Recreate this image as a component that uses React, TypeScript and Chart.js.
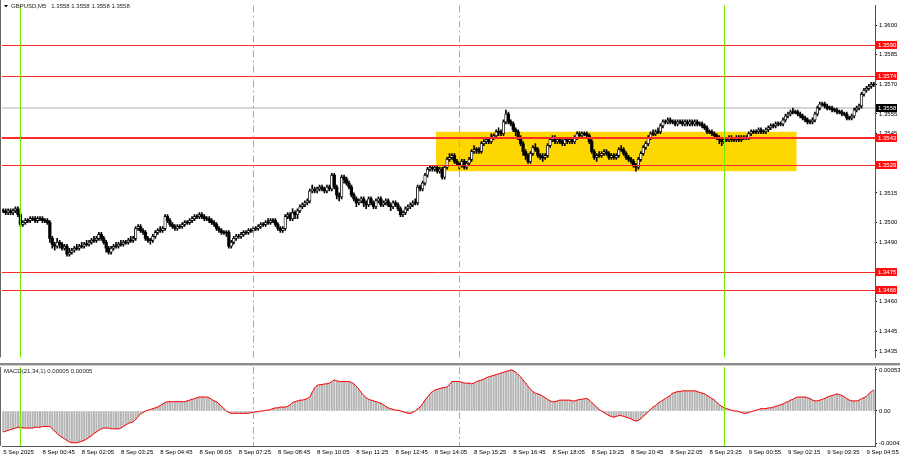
import React, { useEffect, useRef } from "react";
import { Chart, registerables } from "chart.js";

Chart.register(...registerables);

// ---------- DATA ----------
// Prices are stored as pips above 1.3400 (1 pip = 0.0001)
const PRICE_BASE = 1.34;
const PIP = 0.0001;

const closePips = [
  106,105,106,105,106,107,104,99,100,101,
  101,102,102,101,102,102,101,101,100,92,
  89,88,90,89,87,88,84,85,86,87,
  87,88,88,89,89,90,91,91,92,94,
  92,90,87,85,87,88,88,89,89,90,
  90,91,91,92,97,98,96,95,92,91,
  91,93,95,96,96,97,103,101,99,98,
  97,98,98,99,100,100,101,102,103,103,
  104,103,102,102,101,100,99,97,96,95,
  95,95,88,90,92,93,93,94,95,95,
  96,96,97,97,98,99,99,100,100,101,
  101,99,97,96,97,103,104,102,105,104,
  106,108,109,110,111,116,117,116,117,118,
  117,116,118,117,124,118,114,113,123,122,
  120,118,114,112,110,111,112,110,109,112,
  110,108,111,112,109,110,111,109,108,110,
  109,107,104,105,107,108,109,110,110,118,
  117,120,124,127,128,127,128,126,127,123,
  128,132,133,134,131,130,129,131,128,130,
  132,136,137,137,136,140,141,142,141,143,
  144,146,146,145,151,155,151,150,147,146,
  143,140,136,134,131,135,138,137,134,133,
  133,134,139,142,143,141,142,141,140,142,
  141,142,141,143,145,144,145,145,144,141,
  136,133,134,134,135,136,135,133,134,133,
  134,137,137,135,133,132,131,129,128,132,
  135,138,140,143,145,145,146,146,149,151,
  151,152,151,151,150,151,151,150,151,150,
  151,150,151,150,150,149,148,146,146,145,
  144,143,142,141,142,142,143,142,142,143,
  142,143,143,143,145,146,146,146,147,146,
  146,147,148,149,149,150,150,150,152,154,
  155,156,156,156,155,154,153,152,151,151,
  152,155,158,160,160,159,158,158,157,157,
  156,156,155,155,153,153,154,157,158,159,
  165,167,168,169,170,170,
];

const highPips = [
  107,107,107,107,107,108,108,105,101,102,
  102,103,103,103,103,103,103,102,102,101,
  93,90,92,91,90,89,89,87,87,88,
  89,89,90,90,91,91,92,93,93,95,
  95,93,91,88,88,89,90,90,91,91,
  91,92,93,93,98,99,99,97,96,93,
  92,94,96,97,98,98,104,104,102,100,
  99,99,99,100,101,101,102,103,104,104,
  105,105,104,103,103,102,101,100,98,97,
  96,96,96,91,93,94,94,95,96,96,
  97,97,98,98,99,100,100,101,102,102,
  102,102,100,98,98,104,105,105,107,106,
  107,109,110,111,112,117,119,118,118,119,
  119,118,119,119,125,125,119,115,124,124,
  123,121,119,115,113,112,113,113,111,113,
  113,111,112,113,113,111,112,112,110,111,
  111,110,108,106,108,109,110,111,112,119,
  119,121,125,128,129,129,129,129,128,128,
  129,133,135,135,135,132,131,132,132,131,
  133,137,139,138,138,141,142,143,143,145,
  145,147,148,147,152,157,156,152,151,148,
  147,144,141,137,135,136,139,140,138,135,
  135,135,140,143,144,144,143,143,142,143,
  143,143,143,144,146,146,146,146,146,145,
  142,137,135,136,136,137,137,136,135,135,
  135,138,139,138,136,134,133,132,130,133,
  136,139,141,144,146,147,147,148,150,152,
  152,153,153,152,152,152,152,152,152,152,
  152,152,152,152,151,151,150,149,147,147,
  146,145,144,143,143,143,144,144,143,144,
  144,144,144,144,146,147,147,147,148,148,
  147,148,149,150,150,151,151,151,153,155,
  156,157,158,157,157,156,155,154,153,152,
  153,156,159,161,161,161,160,159,159,158,
  158,157,157,156,156,154,155,158,159,160,
  166,168,169,170,171,171,
];

const lowPips = [
  105,104,104,104,104,105,103,98,98,99,
  100,100,101,100,100,101,100,100,99,90,
  87,86,87,87,86,86,83,83,84,85,
  86,86,87,87,88,88,89,90,90,91,
  91,89,85,84,84,86,87,87,88,88,
  89,89,90,90,91,96,95,94,91,90,
  89,90,92,94,95,95,96,100,98,97,
  96,96,97,97,98,99,99,100,101,102,
  102,102,101,101,100,99,98,96,95,94,
  94,93,87,87,89,91,92,92,93,94,
  94,95,95,96,96,97,98,98,99,99,
  100,98,96,95,95,96,102,101,101,102,
  102,105,107,108,109,110,115,115,115,116,
  116,115,115,116,116,117,112,111,112,120,
  119,117,113,111,108,109,110,108,107,108,
  109,107,107,110,108,108,109,108,106,107,
  108,106,103,103,104,106,107,108,109,109,
  116,116,119,123,126,126,126,125,125,122,
  122,127,131,132,130,129,127,128,127,127,
  129,131,135,135,135,135,139,140,140,140,
  142,143,144,144,144,150,150,149,146,144,
  142,139,134,132,130,130,134,136,133,132,
  131,132,133,138,141,140,140,140,139,139,
  140,140,140,140,142,143,143,144,143,140,
  135,132,131,133,133,134,134,132,132,132,
  132,133,136,134,132,131,130,128,126,127,
  131,134,137,139,142,144,144,145,145,148,
  150,150,150,150,149,149,150,149,149,149,
  149,149,149,149,149,148,147,145,145,144,
  143,142,140,139,140,141,141,141,141,141,
  141,141,142,142,142,144,145,145,145,145,
  145,145,146,147,148,148,149,149,149,151,
  153,154,155,155,154,153,152,151,150,150,
  150,151,154,157,159,158,157,157,156,156,
  155,155,154,154,152,152,152,153,156,157,
  158,164,166,167,168,169,
];

// MACD(21,34,1) main line, in units of 0.00001
const macdE5 = [
  -27,-26,-25,-24,-23,-22,-21,-21,-22,-22,
  -22,-22,-22,-21,-21,-21,-20,-20,-20,-20,
  -23,-26,-29,-32,-34,-36,-38,-40,-41,-41,
  -41,-40,-39,-38,-36,-34,-32,-29,-27,-25,
  -23,-22,-22,-22,-23,-23,-23,-23,-22,-20,
  -18,-16,-15,-14,-11,-7,-4,-2,0,1,
  2,3,4,5,7,9,11,12,12,12,
  12,12,12,12,12,13,14,15,16,17,
  18,18,18,18,17,15,13,12,9,6,
  3,0,-2,-3,-3,-3,-3,-3,-3,-3,
  -3,-2,-2,-1,-1,0,0,1,1,2,
  3,4,4,5,5,5,6,8,11,12,
  13,14,14,15,16,18,24,30,33,34,
  34,35,35,36,38,40,39,38,38,38,
  38,38,37,35,32,28,24,20,17,15,
  14,13,12,11,10,8,6,4,3,2,
  1,1,0,-1,-2,-3,-3,-2,0,3,
  5,9,14,18,22,25,27,28,29,30,
  30,31,34,38,38,38,38,37,36,36,
  36,35,36,38,39,40,41,43,44,45,
  46,47,48,49,50,51,52,53,52,50,
  47,44,40,36,32,28,25,23,22,21,
  19,17,15,13,12,12,13,14,14,14,
  14,14,13,13,14,15,15,16,16,14,
  11,8,5,2,0,-2,-4,-6,-7,-8,
  -7,-6,-6,-7,-8,-9,-10,-12,-13,-12,
  -10,-7,-4,-1,2,5,7,10,12,14,
  16,18,20,23,24,25,25,26,26,26,
  26,26,26,25,24,23,22,20,18,16,
  14,11,8,6,4,3,2,1,0,0,
  -1,-2,-3,-3,-2,-1,0,1,2,3,
  3,3,4,4,5,6,7,8,9,11,
  12,14,15,17,18,18,18,18,17,16,
  14,13,13,14,15,16,18,19,20,21,
  22,21,20,18,16,14,13,13,13,14,
  16,17,19,22,25,27,
];

const timeTickLabels = [
  "5 Sep 2025", "8 Sep 00:45", "8 Sep 02:05", "8 Sep 03:25", "8 Sep 04:45",
  "8 Sep 06:05", "8 Sep 07:25", "8 Sep 08:45", "8 Sep 10:05", "8 Sep 11:25",
  "8 Sep 12:45", "8 Sep 14:05", "8 Sep 15:25", "8 Sep 16:45", "8 Sep 18:05",
  "8 Sep 19:25", "8 Sep 20:45", "8 Sep 22:05", "8 Sep 23:25", "9 Sep 00:55",
  "9 Sep 02:15", "9 Sep 03:35", "9 Sep 04:55",
];
const BARS_PER_TICK = 16;

const priceAxisTicks = [1.36, 1.3585, 1.357, 1.3555, 1.3545, 1.3515, 1.35, 1.349, 1.346, 1.3445, 1.3435];
const priceMin = 1.34317;
const priceMax = 1.36099;

const levelPrices = [1.359, 1.3574, 1.3543, 1.3529, 1.3475, 1.3466];
const keyLevel = 1.3543;
const lastPrice = 1.3558;

const zoneHigh = 1.3546;
const zoneLow = 1.3526;
const zoneFromBar = 177;
const zoneToBar = 323;

const sessionLineBars = [7, 102, 186, 294];
const sessionLineDashed = [false, true, true, false];

const macdAxisTicks = [0.00053, 0, -0.00042];
const macdMin = -0.000452;
const macdMax = 0.000568;

const symbolTitle = "GBPUSD,M5";
const ohlcTitle = "1.3558 1.3558 1.3558 1.3558";
const macdTitle = "MACD(21,34,1) 0.00005 0.00005";

// ---------- DERIVED ----------
const FONT = '"Liberation Sans", Arial, sans-serif';
const FS = 6;
const N = closePips.length;
const toPrice = (p: number) => +(PRICE_BASE + p * PIP).toFixed(5);
const labels = Array.from({ length: N }, (_, i) =>
  i % BARS_PER_TICK === 0 ? timeTickLabels[i / BARS_PER_TICK] ?? "" : ""
);
const opens = closePips.map((c, i) => (i === 0 ? c : closePips[i - 1]));
const wickData = lowPips.map((l, i) => [toPrice(l), toPrice(highPips[i])]);
const bodyData = closePips.map((c, i) => {
  const o = opens[i];
  if (o === c) return [toPrice(c) - 0.00002, toPrice(c) + 0.00002];
  return [toPrice(Math.min(o, c)), toPrice(Math.max(o, c))];
});
const bodyFill = closePips.map((c, i) => (c > opens[i] ? "#ffffff" : "#000000"));
const bodyBorderW = closePips.map((c, i) => (c > opens[i] ? 0.8 : 0));
const macdValues = macdE5.map((v) => v * 0.00001);

function drawSessionLines(chart: any) {
  const { ctx, chartArea: a, scales } = chart;
  const x = scales.x;
  ctx.save();
  ctx.strokeStyle = "#72e800";
  ctx.lineWidth = 1;
  sessionLineBars.forEach((b, k) => {
    const px = Math.round(x.getPixelForValue(b)) + 0.5;
    ctx.setLineDash(sessionLineDashed[k] ? [7, 3, 2, 3] : []);
    ctx.beginPath();
    ctx.moveTo(px, a.top);
    ctx.lineTo(px, a.bottom);
    ctx.stroke();
  });
  ctx.restore();
}

function drawLeftBorder(chart: any, fromY: number) {
  const { ctx, chartArea: a } = chart;
  ctx.save();
  ctx.strokeStyle = "#666";
  ctx.lineWidth = 1;
  ctx.beginPath();
  ctx.moveTo(a.left - 1.5, fromY);
  ctx.lineTo(a.left - 1.5, a.bottom);
  ctx.stroke();
  ctx.restore();
}

const mainPlugin = {
  id: "mainOverlay",
  beforeDatasetsDraw(chart: any) {
    const { ctx, chartArea: a, scales } = chart;
    const { x, y } = scales;
    const half = (x.getPixelForValue(1) - x.getPixelForValue(0)) / 2;
    ctx.save();
    ctx.fillStyle = "#ffd700";
    const x0 = x.getPixelForValue(zoneFromBar) - half;
    const x1 = x.getPixelForValue(zoneToBar) + half;
    const y0 = y.getPixelForValue(zoneHigh);
    const y1 = y.getPixelForValue(zoneLow);
    ctx.fillRect(x0, y0, x1 - x0, y1 - y0);
    ctx.strokeStyle = "#d6d6d6";
    ctx.lineWidth = 2;
    const yc = Math.round(y.getPixelForValue(lastPrice));
    ctx.beginPath();
    ctx.moveTo(a.left, yc);
    ctx.lineTo(a.right, yc);
    ctx.stroke();
    ctx.restore();
  },
  afterDatasetsDraw(chart: any) {
    const { ctx, chartArea: a, scales } = chart;
    const y = scales.y;
    ctx.save();
    ctx.strokeStyle = "#ff2a2a";
    levelPrices.forEach((p) => {
      const thick = p === keyLevel;
      ctx.lineWidth = thick ? 2 : 1;
      const py = thick ? Math.round(y.getPixelForValue(p)) : Math.round(y.getPixelForValue(p)) + 0.5;
      ctx.beginPath();
      ctx.moveTo(a.left, py);
      ctx.lineTo(a.right, py);
      ctx.stroke();
    });
    ctx.restore();
    drawSessionLines(chart);
  },
  afterDraw(chart: any) {
    const { ctx, chartArea: a, scales } = chart;
    const y = scales.y;
    drawLeftBorder(chart, 0);
    ctx.save();
    ctx.font = `${FS}px ${FONT}`;
    ctx.textBaseline = "middle";
    ctx.textAlign = "left";
    const tag = (p: number, bg: string) => {
      const py = Math.round(y.getPixelForValue(p));
      ctx.fillStyle = bg;
      ctx.fillRect(a.right + 1, py - 4, 21, 8);
      ctx.fillStyle = "#ffffff";
      ctx.fillText(p.toFixed(4), a.right + 3, py + 0.5);
    };
    levelPrices.forEach((p) => tag(p, "#ff1010"));
    tag(lastPrice, "#000000");
    // title
    ctx.fillStyle = "#000";
    ctx.beginPath();
    ctx.moveTo(4, 5);
    ctx.lineTo(8, 5);
    ctx.lineTo(6, 7.5);
    ctx.closePath();
    ctx.fill();
    ctx.fillStyle = "#222";
    ctx.fillText(symbolTitle, 11, 6.5);
    const w = ctx.measureText(symbolTitle).width;
    ctx.fillText(ohlcTitle, 11 + w + 5, 6.5);
    ctx.restore();
  },
};

const macdPlugin = {
  id: "macdOverlay",
  beforeDraw(chart: any) {
    const { ctx, width } = chart;
    ctx.save();
    ctx.fillStyle = "#8c8c8c";
    ctx.fillRect(0, 3, width, 2);
    ctx.fillStyle = "#d0d0d0";
    ctx.fillRect(0, 5, width, 1);
    ctx.restore();
  },
  afterDatasetsDraw(chart: any) {
    drawSessionLines(chart);
  },
  afterDraw(chart: any) {
    const { ctx, chartArea: a } = chart;
    drawLeftBorder(chart, a.top);
    ctx.save();
    ctx.font = `${FS}px ${FONT}`;
    ctx.textBaseline = "middle";
    ctx.textAlign = "left";
    ctx.fillStyle = "#222";
    ctx.fillText(macdTitle, 4, a.top + 4.5);
    ctx.restore();
  },
};

export default function App() {
  const mainRef = useRef<HTMLCanvasElement>(null);
  const macdRef = useRef<HTMLCanvasElement>(null);

  useEffect(() => {
    const font = { size: FS, family: FONT };
    const main = new Chart(mainRef.current as HTMLCanvasElement, {
      type: "bar",
      data: {
        labels,
        datasets: [
          {
            data: wickData as any,
            backgroundColor: "#000000",
            barThickness: 1,
            grouped: false,
            order: 2,
          } as any,
          {
            data: bodyData as any,
            backgroundColor: bodyFill,
            borderColor: "#000000",
            borderWidth: bodyBorderW,
            borderSkipped: false,
            barThickness: 2.6,
            grouped: false,
            order: 1,
          } as any,
        ],
      },
      options: {
        animation: false,
        responsive: false,
        maintainAspectRatio: false,
        layout: { padding: { left: 2, top: 2, right: 0, bottom: 1 } },
        plugins: { legend: { display: false }, tooltip: { enabled: false } },
        scales: {
          x: { display: false, offset: true, grid: { display: false } },
          y: {
            position: "right",
            min: priceMin,
            max: priceMax,
            afterFit(s: any) {
              s.width = 25;
            },
            afterBuildTicks(s: any) {
              s.ticks = priceAxisTicks.map((v) => ({ value: v }));
            },
            ticks: {
              font,
              color: "#000",
              padding: 2,
              callback: (v: any) => Number(v).toFixed(4),
            },
            grid: { drawOnChartArea: false, drawTicks: true, tickLength: 2, color: "#000" },
            border: { display: true, color: "#555" },
          },
        },
      } as any,
      plugins: [mainPlugin],
    });

    const macd = new Chart(macdRef.current as HTMLCanvasElement, {
      type: "bar",
      data: {
        labels,
        datasets: [
          {
            type: "line",
            data: macdValues,
            borderColor: "#ff0000",
            borderWidth: 1,
            pointRadius: 0,
            tension: 0,
            order: 0,
          } as any,
          {
            type: "bar",
            data: macdValues,
            backgroundColor: "#b4b4b4",
            barThickness: 1.3,
            order: 1,
          } as any,
        ],
      },
      options: {
        animation: false,
        responsive: false,
        maintainAspectRatio: false,
        layout: { padding: { left: 2, top: 7, right: 0, bottom: 0 } },
        plugins: { legend: { display: false }, tooltip: { enabled: false } },
        scales: {
          x: {
            offset: true,
            afterFit(s: any) {
              s.height = 14;
            },
            ticks: {
              autoSkip: false,
              maxRotation: 0,
              minRotation: 0,
              align: "start",
              font,
              color: "#000",
              padding: 3,
              callback: (_v: any, i: number) => labels[i],
            },
            grid: { display: false, drawTicks: false, tickLength: 0 },
            border: { display: true, color: "#555" },
          },
          y: {
            position: "right",
            min: macdMin,
            max: macdMax,
            afterFit(s: any) {
              s.width = 25;
            },
            afterBuildTicks(s: any) {
              s.ticks = macdAxisTicks.map((v) => ({ value: v }));
            },
            ticks: {
              font,
              color: "#000",
              padding: 2,
              callback: (v: any) => (Number(v) === 0 ? "0.00" : Number(v).toFixed(5)),
            },
            grid: { drawOnChartArea: false, drawTicks: true, tickLength: 2, color: "#000" },
            border: { display: true, color: "#555" },
          },
        },
      } as any,
      plugins: [macdPlugin],
    });

    return () => {
      main.destroy();
      macd.destroy();
    };
  }, []);

  return (
    <div
      style={{
        position: "fixed",
        left: 0,
        top: 0,
        width: 900,
        height: 460,
        background: "#ffffff",
        overflow: "hidden",
      }}
    >
      <canvas
        ref={mainRef}
        width={900}
        height={363}
        style={{ position: "absolute", left: 0, top: 0, width: 900, height: 363 }}
      />
      <canvas
        ref={macdRef}
        width={900}
        height={100}
        style={{ position: "absolute", left: 0, top: 360, width: 900, height: 100 }}
      />
    </div>
  );
}
